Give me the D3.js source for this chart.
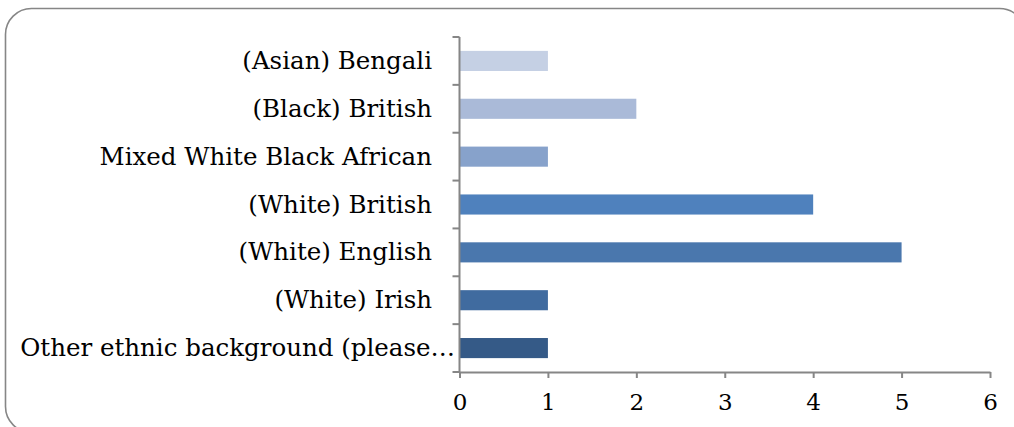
<!DOCTYPE html>
<html>
<head>
<meta charset="utf-8">
<script src="https://cdn.jsdelivr.net/npm/d3@7/dist/d3.min.js"></script>
<style>
  html, body { margin: 0; padding: 0; background: #fff; }
  svg { display: block; }
</style>
</head>
<body>
<svg id="chart" width="1014" height="427"></svg>
<script>
const categories = [
  "(Asian) Bengali",
  "(Black) British",
  "Mixed White Black African",
  "(White) British",
  "(White) English",
  "(White) Irish",
  "Other ethnic background (please…"
];
const values = [1, 2, 1, 4, 5, 1, 1];
const xTicks = [0, 1, 2, 3, 4, 5, 6];
const barColors = ["#c5d0e4", "#aabad8", "#87a2cb", "#4f81bd", "#4a77ad", "#406b9f", "#355a87"];

const svg = d3.select("#chart");
const font = "'DejaVu Serif', serif";

// outer rounded frame
svg.append("rect")
  .attr("x", 5.5).attr("y", 8.5)
  .attr("width", 1020).attr("height", 424)
  .attr("rx", 26).attr("ry", 26)
  .attr("fill", "#fff")
  .attr("stroke", "#868686")
  .attr("stroke-width", 1.6);

const plotLeft = 459.5, plotRight = 990, plotTop = 37, plotBottom = 372;

const x = d3.scaleLinear().domain([0, 6]).range([plotLeft, plotRight]);
const y = d3.scaleBand().domain(categories).range([plotTop, plotBottom])
  .paddingInner(0.58).paddingOuter(0.29);

// bars
svg.append("g").selectAll("rect")
  .data(categories)
  .join("rect")
  .attr("x", x(0))
  .attr("y", d => y(d))
  .attr("width", (d, i) => x(values[i]) - x(0))
  .attr("height", y.bandwidth())
  .attr("fill", (d, i) => barColors[i]);

// y axis line and boundary ticks
const gy = svg.append("g");
gy.append("line")
  .attr("x1", plotLeft).attr("x2", plotLeft)
  .attr("y1", plotTop).attr("y2", plotBottom)
  .attr("stroke", "#868686").attr("stroke-width", 2);
const step = y.step();
const yBounds = d3.range(categories.length + 1).map(i => plotTop + i * step);
gy.selectAll("line.tk")
  .data(yBounds)
  .join("line")
  .attr("class", "tk")
  .attr("x1", plotLeft - 7).attr("x2", plotLeft)
  .attr("y1", d => d).attr("y2", d => d)
  .attr("stroke", "#868686").attr("stroke-width", 2);

// y labels
gy.selectAll("text")
  .data(categories)
  .join("text")
  .attr("x", d => d.endsWith("…") ? 455 : 432)
  .attr("y", d => y(d) + y.bandwidth() / 2)
  .attr("dy", "0.33em")
  .attr("text-anchor", "end")
  .attr("font-family", font)
  .attr("font-size", 24.5)
  .attr("fill", "#000")
  .text(d => d);

// x axis
const gx = svg.append("g").attr("transform", `translate(0,${plotBottom})`)
  .call(d3.axisBottom(x).tickValues(xTicks).tickFormat(d3.format("d"))
    .tickSize(6).tickPadding(16).tickSizeOuter(0));
gx.select(".domain").attr("stroke", "#868686").attr("stroke-width", 2);
gx.selectAll(".tick line").attr("stroke", "#868686").attr("stroke-width", 2);
gx.selectAll(".tick text")
  .attr("font-family", font)
  .attr("font-size", 23)
  .attr("fill", "#000");
</script>
</body>
</html>
